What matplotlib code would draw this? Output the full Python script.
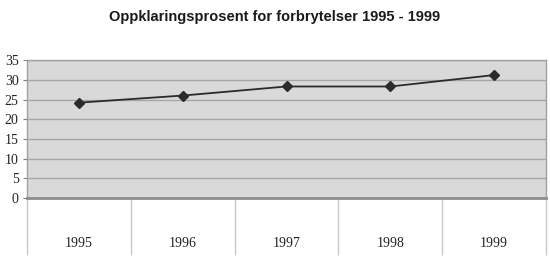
import matplotlib
matplotlib.use("Agg")
import matplotlib.pyplot as plt

aar = ["1995", "1996", "1997", "1998", "1999"]
prosent = [24.2, 26.0, 28.3, 28.3, 31.2]
y_ticks = [0, 5, 10, 15, 20, 25, 30, 35]

fig = plt.figure(figsize=(5.5, 2.6), dpi=100)
ax = fig.add_axes([0.049, 0.238, 0.944, 0.531])

ax.set_facecolor("#d9d9d9")
ax.plot(range(len(aar)), prosent, color="#2b2b2b", lw=1.3,
        marker="D", markersize=5, markerfacecolor="#2b2b2b", zorder=3)

ax.set_xlim(-0.5, len(aar) - 0.5)
ax.set_ylim(0, 35)
ax.set_yticks(y_ticks)
ax.yaxis.grid(True, color="#a6a6a6", lw=1)
ax.set_axisbelow(True)

# kategorier: etiketter midt i, skillelinjer mellom
ax.set_xticks(range(len(aar)))
ax.set_xticklabels(aar)
ax.set_xticks([i - 0.5 for i in range(len(aar) + 1)], minor=True)
ax.tick_params(axis="x", which="major", length=0, pad=28)
ax.tick_params(axis="x", which="minor", length=41, color="#c8c8c8", width=1)
ax.tick_params(axis="y", length=3, color="#808080", pad=3)

for lbl in ax.get_xticklabels() + ax.get_yticklabels():
    lbl.set_fontfamily("Liberation Serif")
    lbl.set_fontsize(10)
    lbl.set_color("#222222")

for side in ["top", "right", "left"]:
    ax.spines[side].set_color("#a0a0a0")
    ax.spines[side].set_linewidth(1)
ax.spines["bottom"].set_color("#8c8c8c")
ax.spines["bottom"].set_linewidth(2)

fig.text(0.5, 0.933, "Oppklaringsprosent for forbrytelser 1995 - 1999",
         ha="center", va="center", fontsize=10.5, fontweight="bold",
         family="Liberation Sans", color="#1a1a1a")

fig.savefig("out.png", dpi=100)
